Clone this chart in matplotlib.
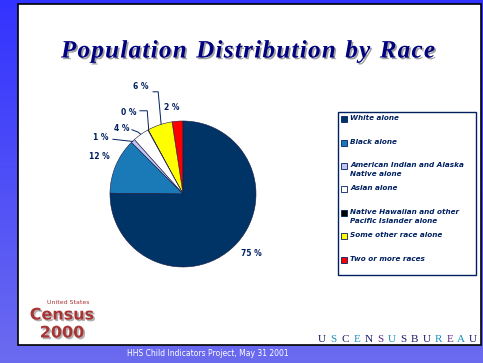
import numpy as np
import matplotlib.pyplot as plt
import matplotlib.patheffects as pe
from matplotlib.patches import Rectangle

# data (2000 census, % of total population)
races = ['White alone', 'Black alone',
         'American Indian and Alaska\nNative alone', 'Asian alone',
         'Native Hawaiian and other\nPacific Islander alone',
         'Some other race alone', 'Two or more races']
shares = [75.1, 12.3, 0.9, 3.6, 0.1, 5.5, 2.4]
pct_labels = ['75%', '12%', '1%', '4%', '0%', '6%', '2%']
colors = ['#003366', '#1a7ab8', '#c4c4f2', '#ffffff', '#000000', '#ffff00', '#ff0000']

title = 'Population Distribution by Race'

W, H = 483, 363
navy = '#002060'


def fx(px):
    return px / W


def fy(py):
    return 1 - py / H


fig = plt.figure(figsize=(W / 100, H / 100), dpi=100)
renderer = fig.canvas.get_renderer()

# blue frame with gradient
bg = fig.add_axes([0, 0, 1, 1], zorder=-3)
grad = np.linspace(0, 1, 256).reshape(-1, 1)
top = np.array([0.2, 0.2, 1.0])
bot = np.array([0.42, 0.42, 0.94])
img = top + (bot - top) * grad[:, :, None]
bg.imshow(img, aspect='auto', extent=[0, 1, 0, 1])
bg.axis('off')

panel = Rectangle((fx(18), fy(345)), fx(463), 341 / H, transform=fig.transFigure,
                  facecolor='white', edgecolor='black', linewidth=1.2, zorder=-2)
fig.add_artist(panel)

# title, letter-spaced, with a grey shadow
shadow = [pe.withSimplePatchShadow(offset=(1.2, -1.2), shadow_rgbFace='#a0a0a0', alpha=1.0)]
tstyle = dict(fontsize=18, fontweight='bold', fontstyle='italic', family='Liberation Serif')
widths = []
for ch in title:
    t = fig.text(0, 0, ch if ch != ' ' else 'n', **tstyle)
    widths.append(t.get_window_extent(renderer).width * (0.5 if ch == ' ' else 1))
    t.remove()
track = 1.3
total = sum(widths) + track * (len(title) - 1)
x = 248 - total / 2
for ch, w in zip(title, widths):
    if ch != ' ':
        fig.text(fx(x), fy(51), ch, ha='left', va='center', color='#000080',
                 path_effects=shadow, **tstyle)
    x += w + track

# pie
cx, cy, r = 183, 194, 73
ax = fig.add_axes([fx(cx - r), fy(cy + r), 2 * r / W, 2 * r / H])
order = list(range(len(shares)))[::-1]  # counterclockwise from top: two or more first
ax.pie([shares[i] for i in order], colors=[colors[i] for i in order],
       startangle=90, counterclock=True, radius=1,
       wedgeprops=dict(edgecolor='#1a1a40', linewidth=0.4))
ax.set_xlim(-1, 1)
ax.set_ylim(-1, 1)
ax.set_aspect('auto')
ax.axis('off')

# percentage labels and leader lines (data coords of the pie axes)
label_pos = {'75%': (0.93, -0.82), '12%': (-1.15, 0.51), '1%': (-1.12, 0.78),
             '4%': (-0.84, 0.90), '0%': (-0.74, 1.11), '6%': (-0.575, 1.466),
             '2%': (-0.15, 1.19)}
leaders = {'6%': [(-0.41, 1.40), (-0.34, 1.40), (-0.30, 0.96)],
           '0%': [(-0.59, 1.14), (-0.49, 1.14), (-0.47, 0.88)],
           '4%': [(-0.70, 0.88), (-0.62, 0.85), (-0.58, 0.82)],
           '1%': [(-0.96, 0.75), (-0.69, 0.72)]}
for lab in pct_labels:
    x, y = label_pos[lab]
    ax.text(x, y, lab.replace('%', ' %'), ha='center', va='center', fontsize=5.5,
            fontweight='bold', color=navy, clip_on=False)
    if lab in leaders:
        pts = np.array(leaders[lab])
        ax.plot(pts[:, 0], pts[:, 1], color=navy, lw=0.7, clip_on=False)

# legend box
fig.add_artist(Rectangle((fx(338), fy(275)), fx(138), 163 / H, transform=fig.transFigure,
                         facecolor='white', edgecolor=navy, linewidth=1.0))
legend_y = [119, 143, 166, 189, 213, 236, 260]
for name, c, ly in zip(races, colors, legend_y):
    fig.add_artist(Rectangle((fx(341), fy(ly + 3)), fx(6), 6 / H, transform=fig.transFigure,
                             facecolor=c, edgecolor=navy, linewidth=0.6))
    fig.text(fx(350), fy(ly - 4), name, ha='left', va='top', fontsize=5.2,
             fontweight='bold', fontstyle='italic', color=navy, linespacing=1.5)

# census 2000 logo
red = '#a83434'
lshadow = [pe.withSimplePatchShadow(offset=(1.2, -1.2), shadow_rgbFace='#b0b0b0', alpha=1.0)]
fig.text(fx(68), fy(302), 'United States', ha='center', va='center',
         fontsize=4.5, color=red)
fig.text(fx(62), fy(315), 'Census', ha='center', va='center',
         fontsize=11.5, fontweight='bold', color=red, path_effects=lshadow)
fig.text(fx(62), fy(333), '2000', ha='center', va='center',
         fontsize=11.5, fontweight='bold', color=red, path_effects=lshadow)

# us census bureau wordmark
word = 'USCENSUSBUREAU'
word_cols = ['#1a1a6a', '#1a90c0', '#1a1a6a', '#1a90c0', '#1a1a6a', '#5a2a8a', '#1a90c0',
             '#1a1a6a', '#1a1a6a', '#1a1a6a', '#1a90c0', '#5a2a8a', '#1a90c0', '#1a1a6a']
for i, (ch, c) in enumerate(zip(word, word_cols)):
    fig.text(fx(322 + i * 11.6), fy(340), ch, ha='center', va='center', fontsize=8,
             family='Liberation Serif', color=c)

fig.text(fx(208), fy(354), 'HHS Child Indicators Project, May 31 2001', ha='center',
         va='center', fontsize=5.5, color='white')

fig.savefig('out.png', dpi=100)
